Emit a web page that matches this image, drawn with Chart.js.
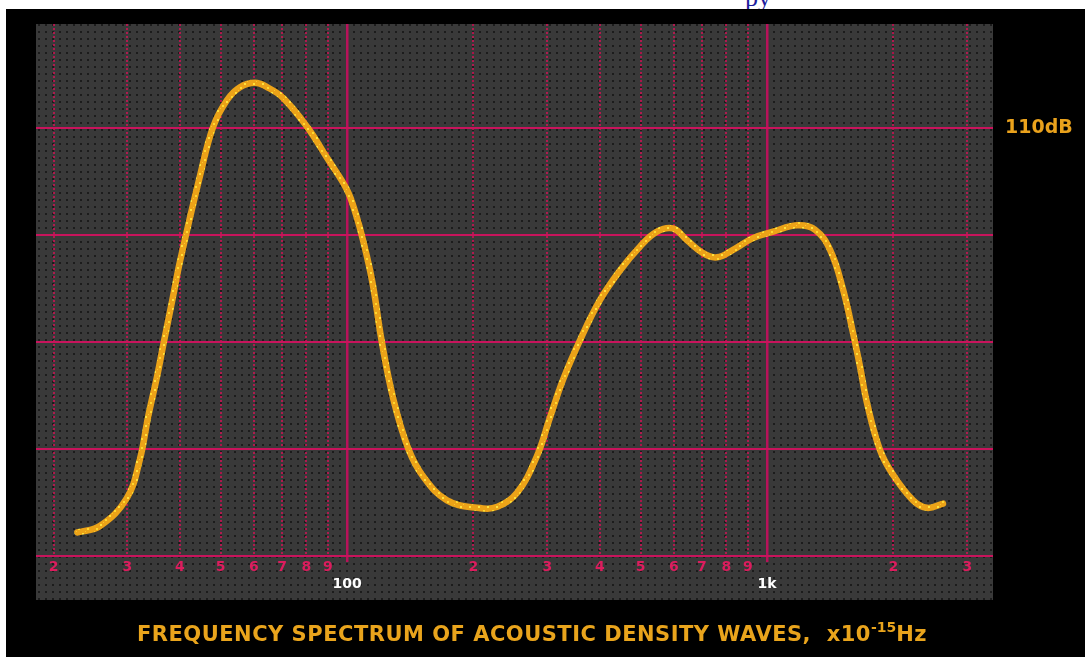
<!DOCTYPE html>
<html><head><meta charset="utf-8">
<script src="https://cdn.jsdelivr.net/npm/chart.js@4.4.1/dist/chart.umd.min.js"></script>
<style>
html,body{margin:0;padding:0;background:#fff;width:1085px;height:657px;overflow:hidden;position:relative;}
#bg{position:absolute;left:6px;top:9px;width:1079px;height:648px;background:#000;}
#c{position:absolute;left:0;top:0;}
#top{position:absolute;left:745px;top:-17px;font:26px "Liberation Serif",serif;color:#1c1c9c;white-space:nowrap;}
#title{position:absolute;left:137px;top:624px;font:bold 21px "DejaVu Sans",sans-serif;letter-spacing:0.5px;line-height:21px;color:#e9a41c;white-space:nowrap;}
#title .sup{font-size:14px;position:relative;top:-9px;letter-spacing:0;}
</style></head>
<body>
<div id="top">py</div>
<div id="bg"></div>
<canvas id="c" width="1085" height="657"></canvas>
<div id="title">FREQUENCY SPECTRUM OF ACOUSTIC DENSITY WAVES,&nbsp;&nbsp;x10<span class="sup">-15</span>Hz</div>
<script>
const freqHz = [22.8, 25.8, 29.9, 32.1, 33.6, 35.3, 36.5, 38.5, 40.0, 44.7, 48.0, 51.8, 55.6, 60.4, 64.5, 70.4, 80.3, 89.6, 100, 105, 109, 115, 121, 129, 140, 152, 173, 204, 228, 254, 283, 304, 327, 359, 400, 447, 498, 547, 597, 645, 704, 760, 830, 926, 1034, 1179, 1300, 1413, 1517, 1603, 1665, 1730, 1858, 1995, 2227, 2404, 2624];
const levelDb = [72.2, 72.8, 75.4, 79.0, 83.0, 86.8, 89.7, 94.2, 97.5, 105.6, 110.1, 112.6, 113.8, 114.2, 113.8, 112.8, 110.1, 107.2, 104.2, 101.9, 99.6, 95.5, 90.0, 84.6, 80.0, 77.4, 75.2, 74.5, 74.6, 75.9, 79.3, 82.9, 86.5, 90.2, 93.9, 96.7, 98.9, 100.3, 100.6, 99.5, 98.3, 97.9, 98.6, 99.7, 100.3, 100.9, 100.5, 98.6, 94.9, 90.8, 87.7, 84.3, 79.9, 77.6, 75.2, 74.5, 74.9];
const xTickValues = [20, 30, 40, 50, 60, 70, 80, 90, 100, 200, 300, 400, 500, 600, 700, 800, 900, 1000, 2000, 3000];
const xTickLabels = ['2', '3', '4', '5', '6', '7', '8', '9', '100', '2', '3', '4', '5', '6', '7', '8', '9', '1k', '2', '3'];
const majorTicks = [100, 1000];
const yTickValues = [70, 80, 90, 100, 110];
const yTickLabels = ['', '', '', '', '110dB'];

const X_MIN = 18.17, X_MAX = 3452, Y_MIN = 70, Y_MAX = 119.7;

function makePattern(size, bg, dots) {
  const cv = document.createElement('canvas');
  cv.width = size; cv.height = size;
  const g = cv.getContext('2d');
  g.fillStyle = bg; g.fillRect(0, 0, size, size);
  dots.forEach(d => { g.fillStyle = d[3]; g.fillRect(d[0], d[1], d[2], d[2]); });
  return g.createPattern(cv, 'repeat');
}
const ctx = document.getElementById('c').getContext('2d');
const panelPattern = makePattern(7, '#393939', [[3, 3, 2, '#1c1c1c']]);
const curvePattern = makePattern(9, '#eca318', [[1, 2, 2, '#ffe23c'], [6, 6, 2, '#ffd92e'], [4, 0, 1, '#f9c72a']]);

const panelPlugin = {
  id: 'panel',
  beforeDraw(chart) {
    const a = chart.chartArea, c = chart.ctx;
    c.save();
    c.fillStyle = panelPattern;
    c.fillRect(a.left, a.top, a.right - a.left, a.bottom - a.top + 44);
    c.restore();
  }
};

new Chart(ctx, {
  type: 'line',
  data: {
    datasets: [{
      data: freqHz.map((f, i) => ({ x: f, y: levelDb[i] })),
      borderColor: curvePattern,
      borderWidth: 6.5,
      pointRadius: 0,
      fill: false,
      tension: 0.4,
      borderCapStyle: 'round',
      borderJoinStyle: 'round'
    }]
  },
  options: {
    responsive: false,
    devicePixelRatio: 1,
    animation: false,
    layout: { padding: { left: 36, top: 24, right: 0, bottom: 0 } },
    plugins: { legend: { display: false }, title: { display: false }, tooltip: { enabled: false } },
    scales: {
      x: {
        type: 'logarithmic', position: 'bottom', min: X_MIN, max: X_MAX, weight: 1,
        afterBuildTicks: s => { s.ticks = xTickValues.map(v => ({ value: v })); },
        afterFit: s => { s.height = 101; },
        ticks: {
          autoSkip: false, maxRotation: 0, minRotation: 0, padding: 3,
          callback: (v, i) => majorTicks.includes(xTickValues[i]) ? ['', xTickLabels[i]] : xTickLabels[i],
          color: c => (c.tick && majorTicks.includes(c.tick.value)) ? '#ffffff' : '#dc1d5e',
          font: { family: 'DejaVu Sans', weight: 'bold', size: 14 },
          lineHeight: 1.0
        },
        grid: {
          color: c => (c.tick && majorTicks.includes(c.tick.value)) ? 'rgba(0,0,0,0)' : 'rgba(205,20,85,0.8)',
          lineWidth: 2, drawTicks: false
        },
        border: { display: false, dash: [2, 2] }
      },
      x2: {
        type: 'logarithmic', position: 'bottom', min: X_MIN, max: X_MAX, weight: 0,
        afterBuildTicks: s => { s.ticks = majorTicks.map(v => ({ value: v })); },
        afterFit: s => { s.height = 0; },
        ticks: { display: false },
        grid: { color: '#b8125a', lineWidth: 2.5, drawTicks: true, tickLength: 6, tickColor: '#b8125a' },
        border: { display: false }
      },
      y: {
        position: 'right', min: Y_MIN, max: Y_MAX,
        afterBuildTicks: s => { s.ticks = yTickValues.map(v => ({ value: v })); },
        afterFit: s => { s.width = 92; },
        ticks: {
          callback: (v, i) => yTickLabels[i],
          color: '#eaa21c', padding: 12,
          font: { family: 'DejaVu Sans', weight: 'bold', size: 19 }
        },
        grid: { color: '#c8145c', lineWidth: 2, drawTicks: false },
        border: { display: false }
      }
    }
  },
  plugins: [panelPlugin]
});
</script>
</body></html>
